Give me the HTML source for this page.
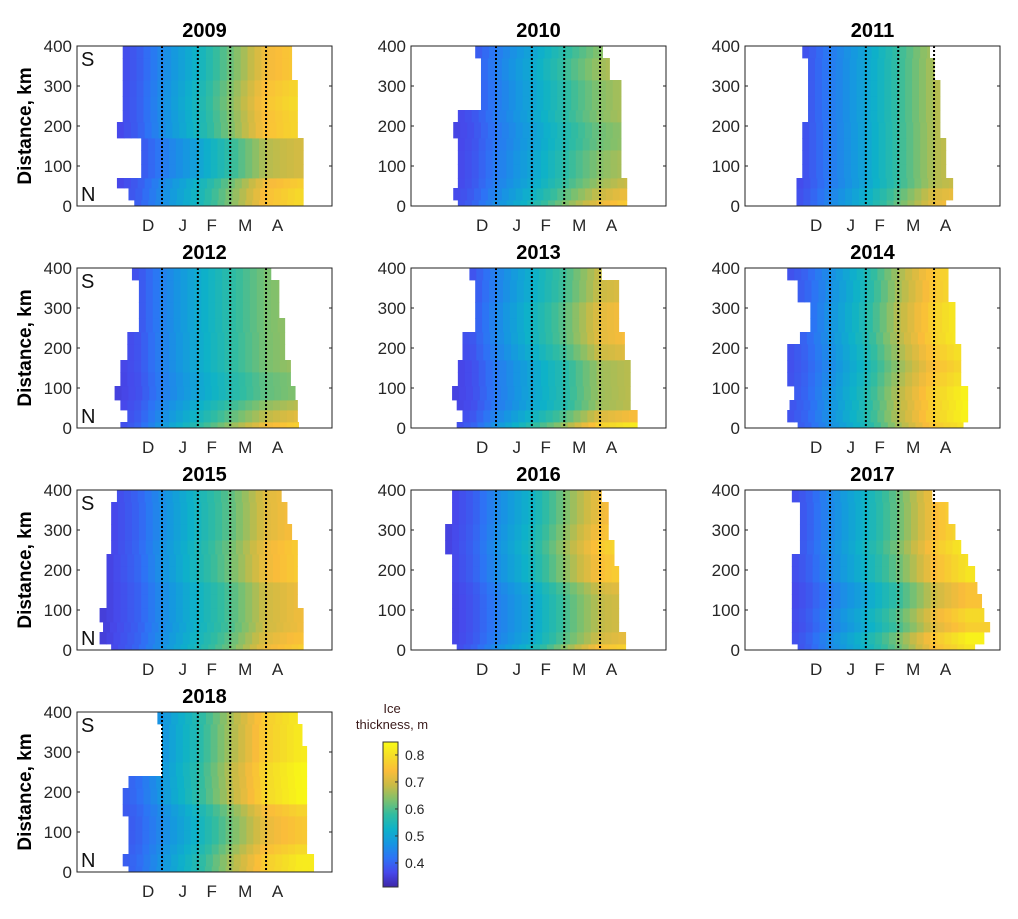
<!DOCTYPE html>
<html><head><meta charset="utf-8"><style>
html,body{margin:0;padding:0;background:#fff}
svg text{font-family:"Liberation Sans",Arial,sans-serif}
</style></head><body>
<svg id="fig" width="1018" height="914" xmlns="http://www.w3.org/2000/svg"></svg>
<script>
// ---- data ----
const years = ["2009","2010","2011","2012","2013","2014","2015","2016","2017","2018"];
const bandEdges = [0,15,45,70,105,140,170,210,240,275,315,370,400];
const profileDays = [-50,-20,0,31,59,90,120];
const profiles = [
 [0.34,0.39,0.45,0.53,0.62,0.73,0.77],
 [0.34,0.38,0.43,0.50,0.57,0.64,0.68],
 [0.33,0.38,0.43,0.50,0.58,0.67,0.70],
 [0.34,0.38,0.44,0.51,0.57,0.63,0.66],
 [0.34,0.38,0.44,0.52,0.59,0.69,0.72],
 [0.35,0.40,0.46,0.55,0.66,0.76,0.82],
 [0.35,0.40,0.46,0.54,0.61,0.71,0.75],
 [0.34,0.39,0.45,0.53,0.63,0.73,0.77],
 [0.34,0.39,0.45,0.53,0.62,0.74,0.81],
 [0.36,0.41,0.47,0.56,0.66,0.77,0.82]
];
const bandAnom = [
 [0.02,0.02,0.0,-0.07,-0.07,-0.07,0.02,0.02,0.03,0.02,0,0],
 [0.10,0.06,0.02,0,0,-0.02,-0.02,0,0,0,0.02,0],
 [0.06,0.04,0,0,0,0,0,0,0,0,0,0],
 [0.12,0.06,0.02,-0.02,-0.02,0,0,0,0,0,0,0],
 [0.10,0.02,-0.04,-0.04,-0.04,-0.04,0,0.03,0.03,0.03,0,0],
 [0,0.02,0.02,0.02,0,-0.02,0,0.02,0.02,0.02,0,0],
 [0.02,0,-0.02,-0.02,-0.02,-0.02,0.02,0.02,0.02,0,0,0],
 [0.02,-0.04,-0.06,-0.06,-0.06,-0.04,0.02,0.02,0.04,0.02,0,0],
 [0,0.02,-0.04,-0.02,-0.06,-0.06,0,0,0.02,0,0,0],
 [0,0,-0.03,-0.06,-0.06,-0.04,0.02,0.02,0.02,0,0,0]
];
// start / end of ice season per band (days from Jan 1)
const startDays = [
 [-24,-29,-39,-18,-18,-18,-39,-34,-34,-34,-34,-34],
 [-33,-37,-33,-33,-33,-33,-37,-33,-13,-13,-13,-18],
 [-29,-29,-29,-24,-24,-24,-24,-19,-19,-19,-19,-24],
 [-36,-30,-36,-41,-36,-36,-30,-30,-20,-20,-20,-26],
 [-34,-29,-34,-38,-33,-33,-29,-29,-18,-18,-18,-23],
 [-28,-37,-35,-31,-37,-37,-37,-26,-17,-17,-28,-37],
 [-44,-54,-51,-54,-48,-48,-48,-48,-44,-44,-44,-39],
 [-34,-38,-38,-38,-38,-38,-38,-38,-44,-44,-38,-38],
 [-28,-33,-33,-33,-33,-33,-33,-33,-26,-26,-26,-33],
 [-29,-34,-29,-29,-29,-34,-34,-29,0,0,0,-4]
];
const endDays = [
 [122,122,122,122,122,122,117,117,117,117,112,112],
 [113,113,113,108,108,108,108,108,108,108,98,92],
 [100,106,106,100,100,100,95,95,95,95,90,86],
 [118,117,117,115,111,111,106,106,106,101,101,94],
 [122,122,116,116,116,116,111,111,106,106,106,91],
 [115,119,119,119,113,113,113,108,108,108,102,102],
 [122,122,122,122,117,117,117,117,117,112,108,103],
 [112,112,106,106,106,106,106,102,102,97,97,91],
 [125,133,138,133,131,127,125,119,113,108,102,88],
 [131,131,125,125,125,125,125,125,125,125,121,117]
];
const xTickDays = [-12,18,43,72,100];
const xTickLabels = ["D","J","F","M","A"];
const monthLines = [0,31,59,90];
const yTicks = [0,100,200,300,400];
const cbTicks = [0.4,0.5,0.6,0.7,0.8];
const cbMin = 0.311, cbMax = 0.848;

// ---- helpers ----
const NS="http://www.w3.org/2000/svg";
const svg=document.getElementById('fig');
function mk(tag,attrs,parent){const e=document.createElementNS(NS,tag);for(const k in attrs)e.setAttribute(k,attrs[k]);(parent||svg).appendChild(e);return e;}
const parula=[[0,62,38,168],[0.1,71,72,235],[0.2,45,115,245],[0.3,22,150,225],[0.4,14,178,200],[0.5,50,188,160],[0.6,125,192,110],[0.7,200,187,70],[0.8,250,188,58],[0.9,245,220,40],[1,249,251,20]];
function cmap(v){let t=(v-cbMin)/(cbMax-cbMin);t=Math.max(0,Math.min(1,t));
 for(let i=0;i<parula.length-1;i++){const a=parula[i],b=parula[i+1];if(t<=b[0]){const f=(t-a[0])/(b[0]-a[0]);
 return `rgb(${Math.round(a[1]+f*(b[1]-a[1]))},${Math.round(a[2]+f*(b[2]-a[2]))},${Math.round(a[3]+f*(b[3]-a[3]))})`;}}return 'rgb(249,251,20)';}
function profileAt(p,d){if(d<=profileDays[0])return p[0];
 for(let i=0;i<profileDays.length-1;i++){if(d<=profileDays[i+1]){const f=(d-profileDays[i])/(profileDays[i+1]-profileDays[i]);return p[i]+f*(p[i+1]-p[i]);}}
 return p[p.length-1];}
const PW=255,PH=160,PXD=1.156,X0=85;
function panelOrigin(i){const col=i%3,row=Math.floor(i/3);return [77+col*334,46+row*222];}

years.forEach((yr,i)=>{
 const [ox,oy]=panelOrigin(i);
 const g=mk('g',{});
 
 
 const xs=d=>ox+X0+d*PXD, ys=k=>oy+PH-k*PH/400;
 const hm=mk('g',{},g);
 
 
 for(let b=0;b<12;b++){
  const s=startDays[i][b],e=endDays[i][b];
  const y1=ys(bandEdges[b+1]),y0=ys(bandEdges[b]);
  for(let d=s;d<e;d+=6){
   const d2=Math.min(e,d+6),mid=(d+d2)/2;
   const prog=Math.max(0,Math.min(1,(mid+50)/170));
   const v=profileAt(profiles[i],mid)+bandAnom[i][b]*prog;
   const r=mk('rect',{x:xs(d).toFixed(2),y:y1.toFixed(2),width:(xs(d2)-xs(d)+0.6).toFixed(2),height:(y0-y1+0.4).toFixed(2),fill:cmap(v)},hm);
   
   
  }
 }
 monthLines.forEach(d=>{const l=mk('line',{x1:xs(d),x2:xs(d),y1:oy,y2:oy+PH,stroke:'#000','stroke-width':2,'stroke-dasharray':'2,2'},g);
  
  });
 const fr=mk('rect',{x:ox,y:oy,width:PW,height:PH,fill:'none',stroke:'#222','stroke-width':1},g);
 
 
 yTicks.forEach(k=>{
  const y=ys(k);
  mk('line',{x1:ox,x2:ox+3,y1:y,y2:y,stroke:'#222'},g);
  mk('line',{x1:ox+PW-3,x2:ox+PW,y1:y,y2:y,stroke:'#222'},g);
  const t=mk('text',{x:ox-5,y:y+6,'text-anchor':'end','font-size':17,fill:'#262626'},g);t.textContent=k;
  
  
 });
 xTickDays.forEach((d,j)=>{
  const t=mk('text',{x:xs(d),y:oy+PH+25,'text-anchor':'middle','font-size':17,fill:'#262626'},g);t.textContent=xTickLabels[j];
  
  
 });
 const ti=mk('text',{x:ox+PW/2,y:oy-9,'text-anchor':'middle','font-size':20,'font-weight':'bold',fill:'#000'},g);ti.textContent=yr;
 
 
 if(i%3===0){
  const yl=mk('text',{x:0,y:0,transform:`translate(31,${oy+PH/2}) rotate(-90)`,'text-anchor':'middle','font-size':19,'font-weight':'bold',fill:'#000'},g);yl.textContent='Distance, km';
  
  
  const sT=mk('text',{x:ox+4,y:oy+20,'font-size':20,fill:'#111'},g);sT.textContent='S';
  
  
  const nT=mk('text',{x:ox+4,y:oy+PH-5,'font-size':20,fill:'#111'},g);nT.textContent='N';
  
  
 }
});

// colorbar
const cb=mk('g',{});


const CBX=383,CBY=742,CBW=15,CBH=145;
const cy=v=>CBY+CBH-(v-cbMin)/(cbMax-cbMin)*CBH;
for(let k=0;k<CBH;k++){const v=cbMin+(CBH-k-0.5)/CBH*(cbMax-cbMin);mk('rect',{x:CBX,y:CBY+k,width:CBW,height:1.2,fill:cmap(v)},cb);}
mk('rect',{x:CBX,y:CBY,width:CBW,height:CBH,fill:'none',stroke:'#333','stroke-width':1},cb);
cbTicks.forEach(v=>{const y=cy(v);mk('line',{x1:CBX+CBW-3,x2:CBX+CBW,y1:y,y2:y,stroke:'#333'},cb);
 const t=mk('text',{x:CBX+22,y:y+5,'font-size':14,fill:'#262626'},cb);t.textContent=v.toFixed(1);
 
 });
const c1=mk('text',{x:392,y:713,'text-anchor':'middle','font-size':13,fill:'#3a1a1a'},cb);c1.textContent='Ice';


const c2=mk('text',{x:392,y:729,'text-anchor':'middle','font-size':13,fill:'#3a1a1a'},cb);c2.textContent='thickness, m';


</script>
</body></html>
